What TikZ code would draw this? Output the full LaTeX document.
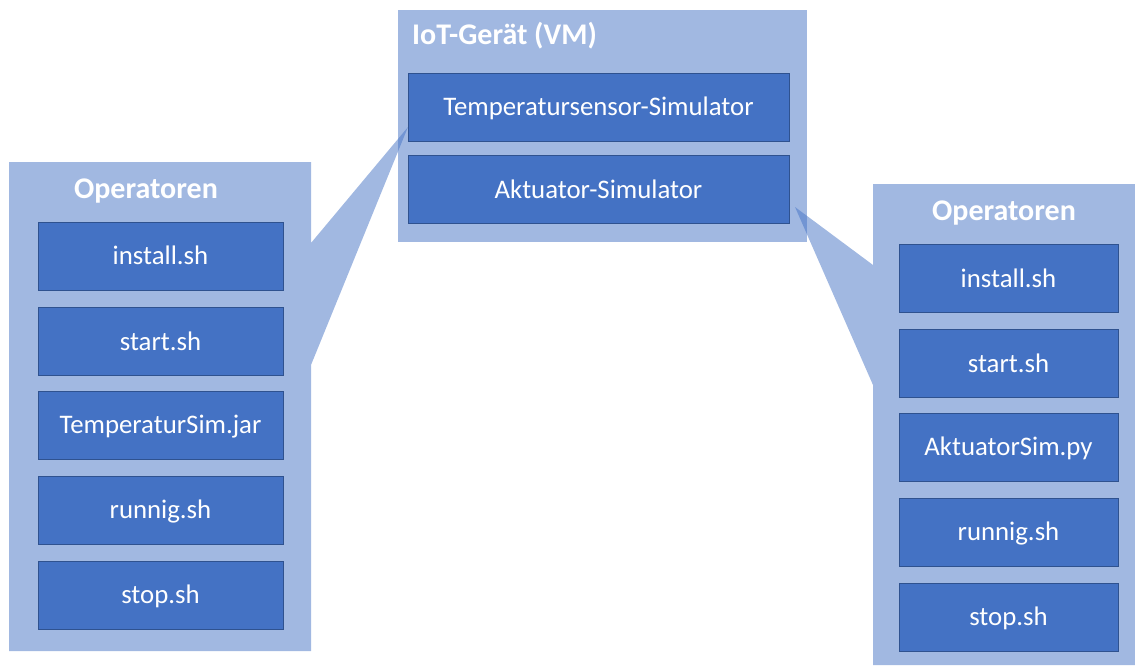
\documentclass[tikz,border=0pt]{standalone}
\usepackage{fontspec}
\setmainfont{Carlito}
\usepackage{xcolor}
\definecolor{accent}{HTML}{4472C4}
\definecolor{accentdark}{HTML}{2F528F}
\begin{document}
\begin{tikzpicture}[x=1pt,y=-1pt,
  panel/.style={fill=accent,fill opacity=0.5,draw=none},
  item/.style={rectangle,fill=accent,draw=accentdark,line width=0.8pt,
    text=white,inner sep=0pt,text height=20pt,text depth=3pt,
    font=\fontsize{26.8}{32}\selectfont},
  lbox/.style={item,minimum width=245pt,minimum height=68pt},
  rbox/.style={item,minimum width=219pt,minimum height=68pt},
  mbox/.style={item,minimum width=381pt,minimum height=68pt},
  heading/.style={text=white,inner sep=0pt,font=\fontsize{30}{36}\selectfont\bfseries}]
\useasboundingbox (0,0) rectangle (1135,665);

% device panel
\fill[panel] (398,10) rectangle (807,242);
\node[heading,anchor=base west] (devtitle) at (412,44) {IoT-Gerät (VM)};

% pointer targets
\coordinate (ltip) at (408,127);
\coordinate (rtip) at (795,207);

% left callout panel with pointer
\fill[panel] (9,162) -- (311,162) -- (311,243) -- (ltip) -- (311,365)
  -- (311,651) -- (9,651) -- cycle;
% right callout panel with pointer
\fill[panel] (873,184) -- (1135,184) -- (1135,665) -- (873,665)
  -- (873,385) -- (rtip) -- (873,265) -- cycle;

\node[heading,anchor=base] (ltitle) at (146,198) {Operatoren};
\node[heading,anchor=base] (rtitle) at (1004,220) {Operatoren};

% device components
\node[mbox] (temp) at (598.5,107) {Temperatursensor-Simulator};
\node[mbox] (akt)  at (598.5,189.5) {Aktuator-Simulator};

% left operator files
\node[lbox] (l1) at (160.5,256) {install.sh};
\node[lbox] (l2) at (160.5,341.5) {start.sh};
\node[lbox] (l3) at (160.5,425) {TemperaturSim.jar};
\node[lbox] (l4) at (160.5,510) {runnig.sh};
\node[lbox] (l5) at (160.5,595) {stop.sh};

% right operator files
\node[rbox] (r1) at (1008.5,278.5) {install.sh};
\node[rbox] (r2) at (1008.5,363.5) {start.sh};
\node[rbox] (r3) at (1008.5,447) {AktuatorSim.py};
\node[rbox] (r4) at (1008.5,532) {runnig.sh};
\node[rbox] (r5) at (1008.5,617) {stop.sh};
\end{tikzpicture}
\end{document}
